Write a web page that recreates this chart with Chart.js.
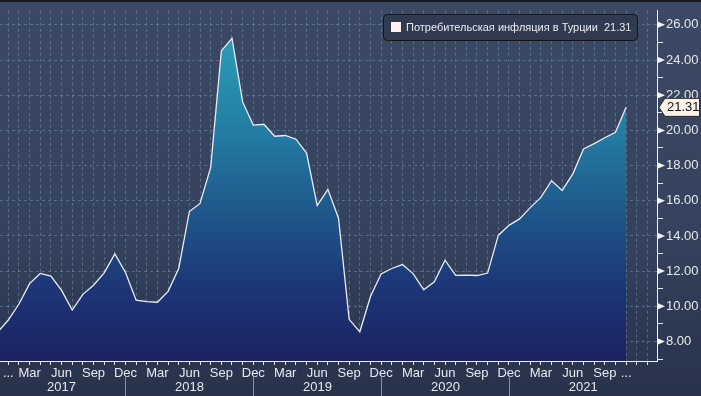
<!DOCTYPE html>
<html>
<head>
<meta charset="utf-8">
<script src="https://cdn.jsdelivr.net/npm/chart.js@4/dist/chart.umd.min.js"></script>
<style>
html,body{margin:0;padding:0;background:#303b54;}
#wrap{width:701px;height:396px;position:relative;}
</style>
</head>
<body>
<div id="wrap"><canvas id="c" width="701" height="396"></canvas></div>
<script>
// ---- DATA ----
const seriesName = 'Потребительская инфляция в Турции';
const months = [
 '2016-12',
 '2017-01','2017-02','2017-03','2017-04','2017-05','2017-06','2017-07','2017-08','2017-09','2017-10','2017-11','2017-12',
 '2018-01','2018-02','2018-03','2018-04','2018-05','2018-06','2018-07','2018-08','2018-09','2018-10','2018-11','2018-12',
 '2019-01','2019-02','2019-03','2019-04','2019-05','2019-06','2019-07','2019-08','2019-09','2019-10','2019-11','2019-12',
 '2020-01','2020-02','2020-03','2020-04','2020-05','2020-06','2020-07','2020-08','2020-09','2020-10','2020-11','2020-12',
 '2021-01','2021-02','2021-03','2021-04','2021-05','2021-06','2021-07','2021-08','2021-09','2021-10','2021-11'
];
const inflation = [
 8.53,
 9.22,10.13,11.29,11.87,11.72,10.90,9.79,10.68,11.20,11.90,12.98,11.92,
 10.35,10.26,10.23,10.85,12.15,15.39,15.85,17.90,24.52,25.24,21.62,20.30,
 20.35,19.67,19.71,19.50,18.71,15.72,16.65,15.01,9.26,8.55,10.56,11.84,
 12.15,12.37,11.86,10.94,11.39,12.62,11.76,11.77,11.75,11.89,14.03,14.60,
 14.97,15.61,16.19,17.14,16.59,17.53,18.95,19.25,19.58,19.89,21.31
];
const monthNames = ['Jan','Feb','Mar','Apr','May','Jun','Jul','Aug','Sep','Oct','Nov','Dec'];
const years = ['2017','2018','2019','2020','2021'];
const yTickValues = [7,8,9,10,11,12,13,14,15,16,17,18,19,20,21,22,23,24,25,26];

// month index relative to Jan 2017
function mIdx(s){const [y,m]=s.split('-').map(Number);return (y-2017)*12+(m-1);}
const points = months.map((m,i)=>({x:mIdx(m), y:inflation[i]}));
const lastIdx = mIdx(months[months.length-1]);
const lastVal = inflation[inflation.length-1];
const xTickValues = [];
for(let i=0;i<=lastIdx+2;i++) xTickValues.push(i);

const FONT = '"Liberation Sans", Arial, sans-serif';
const GRID = 'rgba(110,138,175,0.6)';

const decorPlugin = {
  id:'decor',
  beforeDraw(chart){
    const ctx = chart.ctx, W = chart.width, H = chart.height;
    const g = ctx.createLinearGradient(0,0,0,H);
    g.addColorStop(0,'#3b4965');
    g.addColorStop(0.6,'#34425d');
    g.addColorStop(1,'#28324b');
    ctx.save();
    ctx.fillStyle = g;
    ctx.fillRect(0,0,W,H);
    ctx.fillStyle = '#14171d';
    ctx.fillRect(0,0,W,2);
    ctx.restore();
  },
  afterDraw(chart){
    const ctx = chart.ctx, xs = chart.scales.x, ys = chart.scales.y, ca = chart.chartArea;
    ctx.save();
    // arrow ticks on right axis for labelled values
    ctx.fillStyle = '#f2f2f2';
    yTickValues.forEach(v=>{
      if(v%2===0){
        const py = ys.getPixelForValue(v);
        ctx.beginPath();
        ctx.moveTo(ca.right, py-3.5);
        ctx.lineTo(ca.right+8, py);
        ctx.lineTo(ca.right, py+3.5);
        ctx.closePath();
        ctx.fill();
      }
    });
    // year separators and labels
    ctx.strokeStyle = '#8a93a5';
    ctx.lineWidth = 1;
    const sepX = [];
    for(let k=0;k<years.length-1;k++){
      const px = Math.round(xs.getPixelForValue(k*12+11))+0.5;
      sepX.push(px);
      ctx.beginPath();
      ctx.moveTo(px, ca.bottom+14);
      ctx.lineTo(px, chart.height);
      ctx.stroke();
    }
    ctx.fillStyle = '#e6e8ec';
    ctx.font = '13px '+FONT;
    ctx.textAlign = 'center';
    ctx.textBaseline = 'middle';
    years.forEach((yr,k)=>{
      const l = k===0 ? xs.getPixelForValue(-1) : sepX[k-1];
      const r = k===years.length-1 ? ca.right : sepX[k];
      ctx.fillText(yr,(l+r)/2, ca.bottom+26);
    });
    // legend box
    const lx=383.5, ly=14.5, lw=254, lh=26;
    ctx.beginPath();
    ctx.roundRect(lx,ly,lw,lh,4);
    ctx.fillStyle = '#303b52';
    ctx.fill();
    ctx.strokeStyle = '#12151b';
    ctx.stroke();
    ctx.fillStyle = '#fdf1ee';
    ctx.fillRect(391,22,10,10);
    ctx.fillStyle = '#e9ebef';
    ctx.font = '11px '+FONT;
    ctx.textAlign = 'left';
    ctx.fillText(seriesName+'  '+lastVal.toFixed(2), 406, 27.5);
    // last value tag
    const ty = ys.getPixelForValue(lastVal);
    const tx = ca.right+2;
    ctx.beginPath();
    ctx.moveTo(tx, ty);
    ctx.lineTo(tx+6, ty-9);
    ctx.lineTo(chart.width-1.5, ty-9);
    ctx.lineTo(chart.width-1.5, ty+9);
    ctx.lineTo(tx+6, ty+9);
    ctx.closePath();
    ctx.fillStyle = '#fdf2e8';
    ctx.fill();
    ctx.strokeStyle = '#2a2a2a';
    ctx.stroke();
    ctx.fillStyle = '#111';
    ctx.font = '13px '+FONT;
    ctx.textAlign = 'left';
    ctx.fillText(lastVal.toFixed(2), tx+8, ty+0.5);
    ctx.restore();
  }
};

function areaGradient(context){
  const chart = context.chart, ca = chart.chartArea;
  if(!ca) return '#1f5a8c';
  const g = chart.ctx.createLinearGradient(0, ca.top, 0, ca.bottom);
  g.addColorStop(0,'#2fa6c0');
  g.addColorStop(0.12,'#2a98b3');
  g.addColorStop(0.35,'#237ca3');
  g.addColorStop(0.55,'#1f5b8d');
  g.addColorStop(0.78,'#1d3778');
  g.addColorStop(1,'#1b2163');
  return g;
}

new Chart(document.getElementById('c'),{
  type:'line',
  data:{datasets:[{
    label:seriesName,
    data:points,
    borderColor:'#e8edf3',
    borderWidth:1.3,
    pointRadius:0,
    tension:0,
    fill:'start',
    backgroundColor:areaGradient
  }]},
  options:{
    responsive:false,
    animation:false,
    events:[],
    layout:{padding:{top:3,left:0,right:0,bottom:0}},
    plugins:{legend:{display:false},tooltip:{enabled:false}},
    scales:{
      x:{
        type:'linear',
        min:-0.78, max:60.9,
        afterBuildTicks(s){ s.ticks = xTickValues.map(v=>({value:v})); },
        afterFit(s){ s.height = 35; },
        border:{display:true,color:'#f2f2f2',width:1,dash:[3,3]},
        grid:{
          color:GRID,
          drawTicks:true,
          tickLength:4,
          tickColor:'#e8e8e8',
          tickBorderDash:[],
          tickWidth:1
        },
        ticks:{
          autoSkip:false,
          maxRotation:0,
          padding:1,
          color:'#e6e8ec',
          font:{family:FONT,size:13},
          callback(v){
            if(v===0 || v===lastIdx) return '...';
            if(v>lastIdx) return '';
            const m = ((v%12)+12)%12;
            return (m%3===2) ? monthNames[m] : '';
          }
        }
      },
      y:{
        position:'right',
        min:6.89, max:26.8,
        afterBuildTicks(s){ s.ticks = yTickValues.map(v=>({value:v})); },
        afterFit(s){ s.width = 44; },
        border:{display:true,color:'#f2f2f2',width:1,dash:[3,3]},
        grid:{
          color(ctx){ return (ctx.tick && Math.round(ctx.tick.value)%2===0) ? GRID : 'rgba(0,0,0,0)'; },
          drawTicks:true,
          tickLength:6,
          tickColor:'#e8e8e8',
          tickBorderDash:[],
          tickWidth:1
        },
        ticks:{
          autoSkip:false,
          padding:3,
          color:'#e6e8ec',
          font:{family:FONT,size:13},
          callback(v){ return Math.round(v)%2===0 ? v.toFixed(2) : ''; }
        }
      }
    }
  },
  plugins:[decorPlugin]
});
</script>
</body>
</html>
